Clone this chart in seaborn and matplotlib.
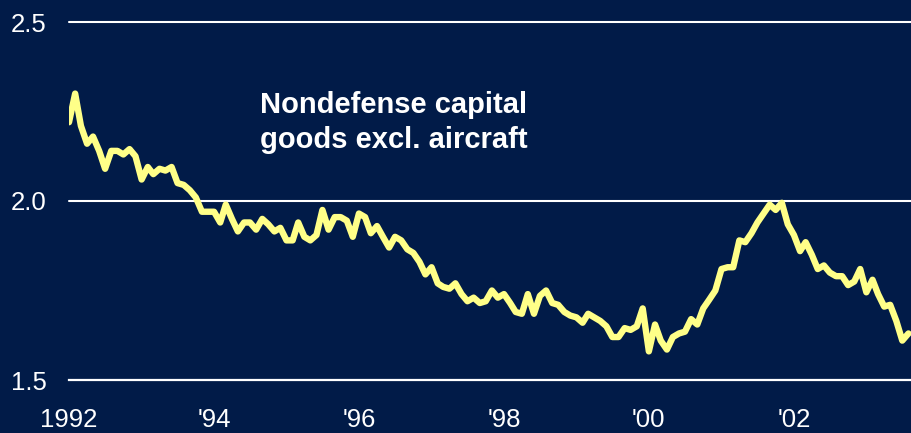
import matplotlib
matplotlib.use("Agg")
import matplotlib.pyplot as plt
import seaborn as sns
import pandas as pd
import numpy as np

# ---- data (monthly, Jan 1992 onward) ----
start_month = "1992-01-01"
values = [
    2.22, 2.30, 2.21, 2.16, 2.18, 2.14, 2.09, 2.14, 2.14, 2.13, 2.145, 2.125,   # 1992
    2.06, 2.095, 2.075, 2.09, 2.085, 2.095, 2.05, 2.045, 2.03, 2.01, 1.97, 1.97,  # 1993
    1.97, 1.94, 1.99, 1.95, 1.915, 1.94, 1.94, 1.92, 1.95, 1.935, 1.915, 1.925,  # 1994
    1.89, 1.89, 1.94, 1.90, 1.89, 1.905, 1.975, 1.92, 1.955, 1.955, 1.945, 1.90,  # 1995
    1.965, 1.955, 1.91, 1.93, 1.90, 1.87, 1.90, 1.89, 1.865, 1.855, 1.83, 1.795, # 1996
    1.815, 1.77, 1.76, 1.755, 1.77, 1.74, 1.72, 1.73, 1.715, 1.72, 1.75, 1.73,   # 1997
    1.74, 1.715, 1.69, 1.685, 1.74, 1.685, 1.735, 1.75, 1.715, 1.71, 1.69, 1.68, # 1998
    1.675, 1.66, 1.685, 1.675, 1.665, 1.65, 1.62, 1.62, 1.645, 1.64, 1.65, 1.70, # 1999
    1.58, 1.655, 1.61, 1.585, 1.62, 1.63, 1.635, 1.67, 1.655, 1.70, 1.725, 1.75, # 2000
    1.81, 1.815, 1.815, 1.89, 1.885, 1.91, 1.94, 1.965, 1.99, 1.975, 1.995, 1.935, # 2001
    1.905, 1.86, 1.885, 1.85, 1.81, 1.82, 1.80, 1.79, 1.79, 1.765, 1.775, 1.81,  # 2002
    1.745, 1.78, 1.74, 1.705, 1.71, 1.665, 1.61, 1.63,                           # 2003
]
tick_years = [1992, 1994, 1996, 1998, 2000, 2002]
tick_labels = ["1992", "'94", "'96", "'98", "'00", "'02"]
y_ticks = [1.5, 2.0, 2.5]
y_tick_labels = ["1.5", "2.0", "2.5"]
series_label = "Nondefense capital\ngoods excl. aircraft"

dates = pd.date_range(start_month, periods=len(values), freq="MS")
df = pd.DataFrame({"date": dates, "value": values})

BG = "#011B48"
LINE = "#FFFF88"

sns.set_theme(style="white")
plt.rcParams["font.family"] = ["Liberation Sans", "DejaVu Sans"]

fig = plt.figure(figsize=(9.12, 4.33), dpi=100, facecolor=BG)
ax = fig.add_axes([69/912, 1 - 380/433, 1 - 69/912, 358/433])
ax.set_facecolor(BG)

for yv in [2.0, 2.5]:
    ax.axhline(yv, color="white", lw=1.5, zorder=1, clip_on=False)

sns.lineplot(data=df, x="date", y="value", ax=ax, color=LINE, lw=4.6,
             zorder=3, solid_capstyle="round", solid_joinstyle="round")

ax.set_xlim(pd.Timestamp("1992-01-01"), pd.Timestamp("2003-08-19"))
ax.set_ylim(1.5, 2.5)

ax.set_xticks([pd.Timestamp(f"{y}-01-01") for y in tick_years])
ax.set_xticklabels(tick_labels)
ax.set_yticks(y_ticks)
ax.set_yticklabels(y_tick_labels)
ax.set_xlabel("")
ax.set_ylabel("")

for s in ["top", "right", "left"]:
    ax.spines[s].set_visible(False)
ax.spines["bottom"].set_color("white")
ax.spines["bottom"].set_linewidth(1.6)

ax.tick_params(axis="x", direction="in", length=6, width=1.4, color="white",
               labelcolor="white", labelsize=18.5, pad=20)
ax.tick_params(axis="y", length=0, labelcolor="white", labelsize=18.5, pad=16)
ax.grid(False)

ax.text((260 - 69) / (912 - 69), 0.806, series_label, transform=ax.transAxes,
        ha="left", va="top", color="white", fontsize=21, fontweight="bold",
        linespacing=1.3)

fig.savefig("out.png", dpi=100, facecolor=BG)
